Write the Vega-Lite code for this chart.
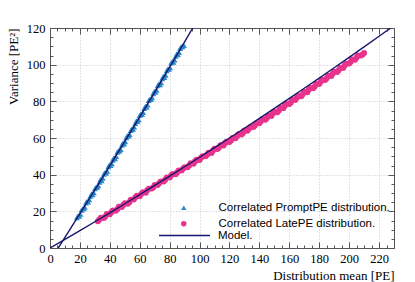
{
  "$schema": "https://vega.github.io/schema/vega-lite/v6.json",
  "width": 344,
  "height": 220,
  "autosize": "none",
  "padding": {"left": 50, "top": 28, "right": 21, "bottom": 34},
  "background": "white",
  "config": {"view": {"stroke": null}},
  "datasets": {
    "pts": [
      {"s": "Correlated PromptPE distribution.", "x": 18, "y": 16.5},
      {"s": "Correlated PromptPE distribution.", "x": 18.75, "y": 17.6},
      {"s": "Correlated PromptPE distribution.", "x": 19.5, "y": 17.4},
      {"s": "Correlated PromptPE distribution.", "x": 20.25, "y": 18.5},
      {"s": "Correlated PromptPE distribution.", "x": 21, "y": 20.6},
      {"s": "Correlated PromptPE distribution.", "x": 21.75, "y": 21.4},
      {"s": "Correlated PromptPE distribution.", "x": 22.5, "y": 21.5},
      {"s": "Correlated PromptPE distribution.", "x": 23.25, "y": 22.3},
      {"s": "Correlated PromptPE distribution.", "x": 24, "y": 24.6},
      {"s": "Correlated PromptPE distribution.", "x": 24.75, "y": 25.5},
      {"s": "Correlated PromptPE distribution.", "x": 25.5, "y": 25.2},
      {"s": "Correlated PromptPE distribution.", "x": 26.25, "y": 26.4},
      {"s": "Correlated PromptPE distribution.", "x": 27, "y": 28.3},
      {"s": "Correlated PromptPE distribution.", "x": 27.75, "y": 29.5},
      {"s": "Correlated PromptPE distribution.", "x": 28.5, "y": 29.1},
      {"s": "Correlated PromptPE distribution.", "x": 29.25, "y": 30.2},
      {"s": "Correlated PromptPE distribution.", "x": 30, "y": 32.4},
      {"s": "Correlated PromptPE distribution.", "x": 30.75, "y": 33.1},
      {"s": "Correlated PromptPE distribution.", "x": 31.5, "y": 33.2},
      {"s": "Correlated PromptPE distribution.", "x": 32.25, "y": 34.0},
      {"s": "Correlated PromptPE distribution.", "x": 33, "y": 35.9},
      {"s": "Correlated PromptPE distribution.", "x": 33.75, "y": 37.4},
      {"s": "Correlated PromptPE distribution.", "x": 34.5, "y": 36.8},
      {"s": "Correlated PromptPE distribution.", "x": 35.25, "y": 38.1},
      {"s": "Correlated PromptPE distribution.", "x": 36, "y": 40.3},
      {"s": "Correlated PromptPE distribution.", "x": 36.75, "y": 41.1},
      {"s": "Correlated PromptPE distribution.", "x": 37.5, "y": 41.0},
      {"s": "Correlated PromptPE distribution.", "x": 38.25, "y": 41.9},
      {"s": "Correlated PromptPE distribution.", "x": 39, "y": 44.4},
      {"s": "Correlated PromptPE distribution.", "x": 39.75, "y": 45.3},
      {"s": "Correlated PromptPE distribution.", "x": 40.5, "y": 45.0},
      {"s": "Correlated PromptPE distribution.", "x": 41.25, "y": 46.0},
      {"s": "Correlated PromptPE distribution.", "x": 42, "y": 47.9},
      {"s": "Correlated PromptPE distribution.", "x": 42.75, "y": 49.3},
      {"s": "Correlated PromptPE distribution.", "x": 43.5, "y": 48.7},
      {"s": "Correlated PromptPE distribution.", "x": 44.25, "y": 50.0},
      {"s": "Correlated PromptPE distribution.", "x": 45, "y": 52.3},
      {"s": "Correlated PromptPE distribution.", "x": 45.75, "y": 53.1},
      {"s": "Correlated PromptPE distribution.", "x": 46.5, "y": 53.0},
      {"s": "Correlated PromptPE distribution.", "x": 47.25, "y": 53.8},
      {"s": "Correlated PromptPE distribution.", "x": 48, "y": 56.1},
      {"s": "Correlated PromptPE distribution.", "x": 48.75, "y": 57.2},
      {"s": "Correlated PromptPE distribution.", "x": 49.5, "y": 56.8},
      {"s": "Correlated PromptPE distribution.", "x": 50.25, "y": 58.0},
      {"s": "Correlated PromptPE distribution.", "x": 51, "y": 60.2},
      {"s": "Correlated PromptPE distribution.", "x": 51.75, "y": 61.3},
      {"s": "Correlated PromptPE distribution.", "x": 52.5, "y": 61.1},
      {"s": "Correlated PromptPE distribution.", "x": 53.25, "y": 61.9},
      {"s": "Correlated PromptPE distribution.", "x": 54, "y": 64.2},
      {"s": "Correlated PromptPE distribution.", "x": 54.75, "y": 65.0},
      {"s": "Correlated PromptPE distribution.", "x": 55.5, "y": 64.8},
      {"s": "Correlated PromptPE distribution.", "x": 56.25, "y": 66.0},
      {"s": "Correlated PromptPE distribution.", "x": 57, "y": 68.0},
      {"s": "Correlated PromptPE distribution.", "x": 57.75, "y": 69.3},
      {"s": "Correlated PromptPE distribution.", "x": 58.5, "y": 69.0},
      {"s": "Correlated PromptPE distribution.", "x": 59.25, "y": 70.0},
      {"s": "Correlated PromptPE distribution.", "x": 60, "y": 72.3},
      {"s": "Correlated PromptPE distribution.", "x": 60.75, "y": 73.1},
      {"s": "Correlated PromptPE distribution.", "x": 61.5, "y": 72.9},
      {"s": "Correlated PromptPE distribution.", "x": 62.25, "y": 74.0},
      {"s": "Correlated PromptPE distribution.", "x": 63, "y": 76.1},
      {"s": "Correlated PromptPE distribution.", "x": 63.75, "y": 77.2},
      {"s": "Correlated PromptPE distribution.", "x": 64.5, "y": 76.8},
      {"s": "Correlated PromptPE distribution.", "x": 65.25, "y": 78.0},
      {"s": "Correlated PromptPE distribution.", "x": 66, "y": 80.5},
      {"s": "Correlated PromptPE distribution.", "x": 66.75, "y": 81.1},
      {"s": "Correlated PromptPE distribution.", "x": 67.5, "y": 81.0},
      {"s": "Correlated PromptPE distribution.", "x": 68.25, "y": 82.0},
      {"s": "Correlated PromptPE distribution.", "x": 69, "y": 84.2},
      {"s": "Correlated PromptPE distribution.", "x": 69.75, "y": 85.4},
      {"s": "Correlated PromptPE distribution.", "x": 70.5, "y": 85.0},
      {"s": "Correlated PromptPE distribution.", "x": 71.25, "y": 86.1},
      {"s": "Correlated PromptPE distribution.", "x": 72, "y": 88.6},
      {"s": "Correlated PromptPE distribution.", "x": 72.75, "y": 89.5},
      {"s": "Correlated PromptPE distribution.", "x": 73.5, "y": 89.1},
      {"s": "Correlated PromptPE distribution.", "x": 74.25, "y": 90.2},
      {"s": "Correlated PromptPE distribution.", "x": 75, "y": 92.4},
      {"s": "Correlated PromptPE distribution.", "x": 75.75, "y": 93.6},
      {"s": "Correlated PromptPE distribution.", "x": 76.5, "y": 93.0},
      {"s": "Correlated PromptPE distribution.", "x": 77.25, "y": 94.3},
      {"s": "Correlated PromptPE distribution.", "x": 78, "y": 96.8},
      {"s": "Correlated PromptPE distribution.", "x": 78.75, "y": 97.6},
      {"s": "Correlated PromptPE distribution.", "x": 79.5, "y": 97.5},
      {"s": "Correlated PromptPE distribution.", "x": 80.25, "y": 98.4},
      {"s": "Correlated PromptPE distribution.", "x": 81, "y": 100.9},
      {"s": "Correlated PromptPE distribution.", "x": 81.75, "y": 101.8},
      {"s": "Correlated PromptPE distribution.", "x": 82.5, "y": 101.4},
      {"s": "Correlated PromptPE distribution.", "x": 83.25, "y": 102.6},
      {"s": "Correlated PromptPE distribution.", "x": 84, "y": 104.6},
      {"s": "Correlated PromptPE distribution.", "x": 84.75, "y": 105.9},
      {"s": "Correlated PromptPE distribution.", "x": 85.5, "y": 105.5},
      {"s": "Correlated PromptPE distribution.", "x": 86.25, "y": 106.7},
      {"s": "Correlated PromptPE distribution.", "x": 87, "y": 108.9},
      {"s": "Correlated PromptPE distribution.", "x": 87.75, "y": 109.8},
      {"s": "Correlated PromptPE distribution.", "x": 88.5, "y": 109.8},
      {"s": "Correlated PromptPE distribution.", "x": 89.5, "y": 110.5},
      {"s": "Correlated LatePE distribution.", "x": 32, "y": 14.6},
      {"s": "Correlated LatePE distribution.", "x": 33, "y": 15.6},
      {"s": "Correlated LatePE distribution.", "x": 34, "y": 16.5},
      {"s": "Correlated LatePE distribution.", "x": 36, "y": 16.4},
      {"s": "Correlated LatePE distribution.", "x": 37, "y": 17.2},
      {"s": "Correlated LatePE distribution.", "x": 38, "y": 18.5},
      {"s": "Correlated LatePE distribution.", "x": 40, "y": 18.4},
      {"s": "Correlated LatePE distribution.", "x": 41, "y": 19.5},
      {"s": "Correlated LatePE distribution.", "x": 42, "y": 20.5},
      {"s": "Correlated LatePE distribution.", "x": 44, "y": 20.3},
      {"s": "Correlated LatePE distribution.", "x": 45, "y": 21.2},
      {"s": "Correlated LatePE distribution.", "x": 46, "y": 22.5},
      {"s": "Correlated LatePE distribution.", "x": 48, "y": 22.4},
      {"s": "Correlated LatePE distribution.", "x": 49, "y": 23.5},
      {"s": "Correlated LatePE distribution.", "x": 50, "y": 24.4},
      {"s": "Correlated LatePE distribution.", "x": 52, "y": 24.1},
      {"s": "Correlated LatePE distribution.", "x": 53, "y": 25.0},
      {"s": "Correlated LatePE distribution.", "x": 54, "y": 26.3},
      {"s": "Correlated LatePE distribution.", "x": 56, "y": 26.4},
      {"s": "Correlated LatePE distribution.", "x": 57, "y": 27.5},
      {"s": "Correlated LatePE distribution.", "x": 58, "y": 28.5},
      {"s": "Correlated LatePE distribution.", "x": 60, "y": 28.2},
      {"s": "Correlated LatePE distribution.", "x": 61, "y": 29.4},
      {"s": "Correlated LatePE distribution.", "x": 62, "y": 30.4},
      {"s": "Correlated LatePE distribution.", "x": 64, "y": 30.1},
      {"s": "Correlated LatePE distribution.", "x": 65, "y": 31.5},
      {"s": "Correlated LatePE distribution.", "x": 66, "y": 32.3},
      {"s": "Correlated LatePE distribution.", "x": 68, "y": 32.5},
      {"s": "Correlated LatePE distribution.", "x": 69, "y": 33.0},
      {"s": "Correlated LatePE distribution.", "x": 70, "y": 34.4},
      {"s": "Correlated LatePE distribution.", "x": 72, "y": 34.3},
      {"s": "Correlated LatePE distribution.", "x": 73, "y": 35.5},
      {"s": "Correlated LatePE distribution.", "x": 74, "y": 36.3},
      {"s": "Correlated LatePE distribution.", "x": 76, "y": 36.3},
      {"s": "Correlated LatePE distribution.", "x": 77, "y": 37.2},
      {"s": "Correlated LatePE distribution.", "x": 78, "y": 38.4},
      {"s": "Correlated LatePE distribution.", "x": 80, "y": 38.5},
      {"s": "Correlated LatePE distribution.", "x": 81, "y": 39.6},
      {"s": "Correlated LatePE distribution.", "x": 82, "y": 40.3},
      {"s": "Correlated LatePE distribution.", "x": 84, "y": 40.2},
      {"s": "Correlated LatePE distribution.", "x": 85, "y": 41.2},
      {"s": "Correlated LatePE distribution.", "x": 86, "y": 42.3},
      {"s": "Correlated LatePE distribution.", "x": 88, "y": 42.3},
      {"s": "Correlated LatePE distribution.", "x": 89, "y": 43.4},
      {"s": "Correlated LatePE distribution.", "x": 90, "y": 44.1},
      {"s": "Correlated LatePE distribution.", "x": 92, "y": 44.1},
      {"s": "Correlated LatePE distribution.", "x": 93, "y": 45.0},
      {"s": "Correlated LatePE distribution.", "x": 94, "y": 46.2},
      {"s": "Correlated LatePE distribution.", "x": 96, "y": 46.0},
      {"s": "Correlated LatePE distribution.", "x": 97, "y": 47.3},
      {"s": "Correlated LatePE distribution.", "x": 98, "y": 48.1},
      {"s": "Correlated LatePE distribution.", "x": 100, "y": 48.0},
      {"s": "Correlated LatePE distribution.", "x": 101, "y": 49.2},
      {"s": "Correlated LatePE distribution.", "x": 102, "y": 50.1},
      {"s": "Correlated LatePE distribution.", "x": 104, "y": 50.0},
      {"s": "Correlated LatePE distribution.", "x": 105, "y": 50.8},
      {"s": "Correlated LatePE distribution.", "x": 106, "y": 52.0},
      {"s": "Correlated LatePE distribution.", "x": 108, "y": 51.8},
      {"s": "Correlated LatePE distribution.", "x": 109, "y": 53.2},
      {"s": "Correlated LatePE distribution.", "x": 110, "y": 54.1},
      {"s": "Correlated LatePE distribution.", "x": 112, "y": 54.0},
      {"s": "Correlated LatePE distribution.", "x": 113, "y": 54.8},
      {"s": "Correlated LatePE distribution.", "x": 114, "y": 56.1},
      {"s": "Correlated LatePE distribution.", "x": 116, "y": 55.9},
      {"s": "Correlated LatePE distribution.", "x": 117, "y": 57.1},
      {"s": "Correlated LatePE distribution.", "x": 118, "y": 58.0},
      {"s": "Correlated LatePE distribution.", "x": 120, "y": 57.8},
      {"s": "Correlated LatePE distribution.", "x": 121, "y": 58.7},
      {"s": "Correlated LatePE distribution.", "x": 122, "y": 60.0},
      {"s": "Correlated LatePE distribution.", "x": 124, "y": 59.8},
      {"s": "Correlated LatePE distribution.", "x": 125, "y": 61.0},
      {"s": "Correlated LatePE distribution.", "x": 126, "y": 62.0},
      {"s": "Correlated LatePE distribution.", "x": 128, "y": 61.9},
      {"s": "Correlated LatePE distribution.", "x": 129, "y": 62.7},
      {"s": "Correlated LatePE distribution.", "x": 130, "y": 64.1},
      {"s": "Correlated LatePE distribution.", "x": 132, "y": 63.9},
      {"s": "Correlated LatePE distribution.", "x": 133, "y": 65.1},
      {"s": "Correlated LatePE distribution.", "x": 134, "y": 66.0},
      {"s": "Correlated LatePE distribution.", "x": 136, "y": 66.0},
      {"s": "Correlated LatePE distribution.", "x": 137, "y": 66.8},
      {"s": "Correlated LatePE distribution.", "x": 138, "y": 68.1},
      {"s": "Correlated LatePE distribution.", "x": 140, "y": 68.0},
      {"s": "Correlated LatePE distribution.", "x": 141, "y": 69.2},
      {"s": "Correlated LatePE distribution.", "x": 142, "y": 70.2},
      {"s": "Correlated LatePE distribution.", "x": 144, "y": 70.0},
      {"s": "Correlated LatePE distribution.", "x": 145, "y": 70.9},
      {"s": "Correlated LatePE distribution.", "x": 146, "y": 72.1},
      {"s": "Correlated LatePE distribution.", "x": 148, "y": 72.0},
      {"s": "Correlated LatePE distribution.", "x": 149, "y": 73.4},
      {"s": "Correlated LatePE distribution.", "x": 150, "y": 74.2},
      {"s": "Correlated LatePE distribution.", "x": 152, "y": 74.1},
      {"s": "Correlated LatePE distribution.", "x": 153, "y": 75.0},
      {"s": "Correlated LatePE distribution.", "x": 154, "y": 76.4},
      {"s": "Correlated LatePE distribution.", "x": 156, "y": 76.2},
      {"s": "Correlated LatePE distribution.", "x": 157, "y": 77.6},
      {"s": "Correlated LatePE distribution.", "x": 158, "y": 78.5},
      {"s": "Correlated LatePE distribution.", "x": 160, "y": 78.5},
      {"s": "Correlated LatePE distribution.", "x": 161, "y": 79.3},
      {"s": "Correlated LatePE distribution.", "x": 162, "y": 80.8},
      {"s": "Correlated LatePE distribution.", "x": 164, "y": 80.7},
      {"s": "Correlated LatePE distribution.", "x": 165, "y": 81.9},
      {"s": "Correlated LatePE distribution.", "x": 166, "y": 82.9},
      {"s": "Correlated LatePE distribution.", "x": 168, "y": 82.8},
      {"s": "Correlated LatePE distribution.", "x": 169, "y": 83.8},
      {"s": "Correlated LatePE distribution.", "x": 170, "y": 85.1},
      {"s": "Correlated LatePE distribution.", "x": 172, "y": 85.0},
      {"s": "Correlated LatePE distribution.", "x": 173, "y": 86.3},
      {"s": "Correlated LatePE distribution.", "x": 174, "y": 87.3},
      {"s": "Correlated LatePE distribution.", "x": 176, "y": 87.1},
      {"s": "Correlated LatePE distribution.", "x": 177, "y": 88.1},
      {"s": "Correlated LatePE distribution.", "x": 178, "y": 89.4},
      {"s": "Correlated LatePE distribution.", "x": 180, "y": 89.4},
      {"s": "Correlated LatePE distribution.", "x": 181, "y": 90.7},
      {"s": "Correlated LatePE distribution.", "x": 182, "y": 91.7},
      {"s": "Correlated LatePE distribution.", "x": 184, "y": 91.6},
      {"s": "Correlated LatePE distribution.", "x": 185, "y": 92.6},
      {"s": "Correlated LatePE distribution.", "x": 186, "y": 93.9},
      {"s": "Correlated LatePE distribution.", "x": 188, "y": 93.8},
      {"s": "Correlated LatePE distribution.", "x": 189, "y": 95.1},
      {"s": "Correlated LatePE distribution.", "x": 190, "y": 96.1},
      {"s": "Correlated LatePE distribution.", "x": 192, "y": 96.0},
      {"s": "Correlated LatePE distribution.", "x": 193, "y": 96.9},
      {"s": "Correlated LatePE distribution.", "x": 194, "y": 98.3},
      {"s": "Correlated LatePE distribution.", "x": 196, "y": 98.2},
      {"s": "Correlated LatePE distribution.", "x": 197, "y": 99.5},
      {"s": "Correlated LatePE distribution.", "x": 198, "y": 100.5},
      {"s": "Correlated LatePE distribution.", "x": 200, "y": 100.6},
      {"s": "Correlated LatePE distribution.", "x": 201, "y": 101.5},
      {"s": "Correlated LatePE distribution.", "x": 202, "y": 102.8},
      {"s": "Correlated LatePE distribution.", "x": 204, "y": 102.7},
      {"s": "Correlated LatePE distribution.", "x": 205, "y": 103.9},
      {"s": "Correlated LatePE distribution.", "x": 206, "y": 105.0},
      {"s": "Correlated LatePE distribution.", "x": 208, "y": 105.0},
      {"s": "Correlated LatePE distribution.", "x": 209, "y": 105.6},
      {"s": "Correlated LatePE distribution.", "x": 210, "y": 106.4}
    ],
    "model": [
      {"s": "P", "m": "Model.", "x": 5.5, "y": 0},
      {"s": "P", "m": "Model.", "x": 10, "y": 5.77},
      {"s": "P", "m": "Model.", "x": 20, "y": 18.69},
      {"s": "P", "m": "Model.", "x": 30, "y": 31.72},
      {"s": "P", "m": "Model.", "x": 40, "y": 44.87},
      {"s": "P", "m": "Model.", "x": 50, "y": 58.15},
      {"s": "P", "m": "Model.", "x": 60, "y": 71.54},
      {"s": "P", "m": "Model.", "x": 70, "y": 85.06},
      {"s": "P", "m": "Model.", "x": 80, "y": 98.69},
      {"s": "P", "m": "Model.", "x": 90, "y": 112.44},
      {"s": "P", "m": "Model.", "x": 95.45, "y": 120},
      {"s": "L", "m": "Model.", "x": 0, "y": 0},
      {"s": "L", "m": "Model.", "x": 10, "y": 4.73},
      {"s": "L", "m": "Model.", "x": 20, "y": 9.5},
      {"s": "L", "m": "Model.", "x": 30, "y": 14.33},
      {"s": "L", "m": "Model.", "x": 40, "y": 19.2},
      {"s": "L", "m": "Model.", "x": 50, "y": 24.13},
      {"s": "L", "m": "Model.", "x": 60, "y": 29.1},
      {"s": "L", "m": "Model.", "x": 70, "y": 34.13},
      {"s": "L", "m": "Model.", "x": 80, "y": 39.2},
      {"s": "L", "m": "Model.", "x": 90, "y": 44.33},
      {"s": "L", "m": "Model.", "x": 100, "y": 49.5},
      {"s": "L", "m": "Model.", "x": 110, "y": 54.73},
      {"s": "L", "m": "Model.", "x": 120, "y": 60.0},
      {"s": "L", "m": "Model.", "x": 130, "y": 65.33},
      {"s": "L", "m": "Model.", "x": 140, "y": 70.7},
      {"s": "L", "m": "Model.", "x": 150, "y": 76.13},
      {"s": "L", "m": "Model.", "x": 160, "y": 81.6},
      {"s": "L", "m": "Model.", "x": 170, "y": 87.13},
      {"s": "L", "m": "Model.", "x": 180, "y": 92.7},
      {"s": "L", "m": "Model.", "x": 190, "y": 98.33},
      {"s": "L", "m": "Model.", "x": 200, "y": 104.0},
      {"s": "L", "m": "Model.", "x": 210, "y": 109.73},
      {"s": "L", "m": "Model.", "x": 220, "y": 115.5},
      {"s": "L", "m": "Model.", "x": 227.6, "y": 119.9}
    ]
  },
  "layer": [
    {
      "data": {"name": "pts"},
      "mark": {"type": "point", "filled": true, "opacity": 1, "size": 36},
      "encoding": {
        "x": {
          "field": "x", "type": "quantitative",
          "scale": {"domain": [0, 230], "nice": false, "zero": false},
          "axis": {
            "orient": "bottom",
            "values": [0,5,10,15,20,25,30,35,40,45,50,55,60,65,70,75,80,85,90,95,100,105,110,115,120,125,130,135,140,145,150,155,160,165,170,175,180,185,190,195,200,205,210,215,220,225,230],
            "labelExpr": "datum.value % 20 === 0 ? datum.label : ''",
            "tickSize": {"condition": {"test": "datum.value % 20 === 0", "value": -6}, "value": -3},
            "tickColor": "#555",
            "domainColor": "#555",
            "grid": true,
            "gridOpacity": {"condition": {"test": "datum.value % 20 === 0 && datum.value > 0", "value": 1}, "value": 0},
            "gridDash": [1, 2],
            "gridColor": "#c8c8c8",
            "labelFont": "Liberation Serif",
            "labelFontSize": 12.5,
            "labelColor": "#000",
            "labelPadding": 10,
            "labelFlush": false,
            "labelOverlap": false,
            "title": "Distribution mean [PE]",
            "titleFont": "Liberation Serif",
            "titleFontSize": 13,
            "titleFontWeight": "normal",
            "titleColor": "#000",
            "titleAnchor": "end",
            "titlePadding": 2
          }
        },
        "y": {
          "field": "y", "type": "quantitative",
          "scale": {"domain": [0, 120], "nice": false, "zero": false},
          "axis": {
            "orient": "left",
            "values": [0,5,10,15,20,25,30,35,40,45,50,55,60,65,70,75,80,85,90,95,100,105,110,115,120],
            "labelExpr": "datum.value % 20 === 0 ? datum.label : ''",
            "tickSize": {"condition": {"test": "datum.value % 20 === 0", "value": -6}, "value": -3},
            "tickColor": "#555",
            "domainColor": "#555",
            "grid": true,
            "gridOpacity": {"condition": {"test": "datum.value % 20 === 0 && datum.value > 0", "value": 1}, "value": 0},
            "gridDash": [1, 2],
            "gridColor": "#c8c8c8",
            "labelFont": "Liberation Serif",
            "labelFontSize": 12.5,
            "labelColor": "#000",
            "labelPadding": 11,
            "labelFlush": false,
            "labelOverlap": false,
            "title": "Variance [PE²]",
            "titleFont": "Liberation Serif",
            "titleFontSize": 13,
            "titleFontWeight": "normal",
            "titleColor": "#000",
            "titleAnchor": "end",
            "titlePadding": 6
          }
        },
        "color": {
          "field": "s", "type": "nominal",
          "scale": {"domain": ["Correlated PromptPE distribution.", "Correlated LatePE distribution."], "range": ["#2b88c8", "#e8338c"]},
          "legend": {"title": null, "orient": "none", "legendX": 128, "legendY": 174, "padding": 0, "labelFont": "Liberation Sans", "labelFontSize": 11.5, "labelColor": "#000", "symbolSize": 30, "labelOffset": 29, "rowPadding": 3, "labelLimit": 400}
        },
        "shape": {
          "field": "s", "type": "nominal",
          "scale": {"domain": ["Correlated PromptPE distribution.", "Correlated LatePE distribution."], "range": ["triangle-up", "circle"]},
          "legend": {"title": null, "orient": "none", "legendX": 128, "legendY": 174, "padding": 0, "labelFont": "Liberation Sans", "labelFontSize": 11.5, "labelColor": "#000", "symbolSize": 30, "labelOffset": 29, "rowPadding": 3, "labelLimit": 400}
        }
      }
    },
    {
      "data": {"name": "model"},
      "mark": {"type": "line", "strokeWidth": 1.4, "clip": true},
      "encoding": {
        "x": {
          "field": "x", "type": "quantitative",
          "axis": {
            "orient": "top",
            "values": [0,5,10,15,20,25,30,35,40,45,50,55,60,65,70,75,80,85,90,95,100,105,110,115,120,125,130,135,140,145,150,155,160,165,170,175,180,185,190,195,200,205,210,215,220,225,230],
            "labels": false,
            "grid": false,
            "tickSize": {"condition": {"test": "datum.value % 20 === 0", "value": -6}, "value": -3},
            "tickColor": "#555",
            "domainColor": "#555",
            "title": null
          }
        },
        "y": {
          "field": "y", "type": "quantitative",
          "axis": {
            "orient": "right",
            "values": [0,5,10,15,20,25,30,35,40,45,50,55,60,65,70,75,80,85,90,95,100,105,110,115,120],
            "labels": false,
            "grid": false,
            "tickSize": {"condition": {"test": "datum.value % 20 === 0", "value": -6}, "value": -3},
            "tickColor": "#555",
            "domainColor": "#555",
            "title": null
          }
        },
        "detail": {"field": "s"},
        "color": {
          "field": "m", "type": "nominal",
          "scale": {"domain": ["Model."], "range": ["#16166e"]},
          "legend": {"title": null, "orient": "none", "legendX": 108, "legendY": 181, "padding": 0, "labelFont": "Liberation Sans", "labelFontSize": 11.5, "labelColor": "#000", "symbolType": "stroke", "symbolSize": 2600, "symbolStrokeWidth": 1.5, "labelOffset": 7, "labelLimit": 400}
        }
      }
    }
  ],
  "resolve": {
    "scale": {"color": "independent", "shape": "independent"},
    "axis": {"x": "independent", "y": "independent"},
    "legend": {"color": "independent", "shape": "independent"}
  }
}
